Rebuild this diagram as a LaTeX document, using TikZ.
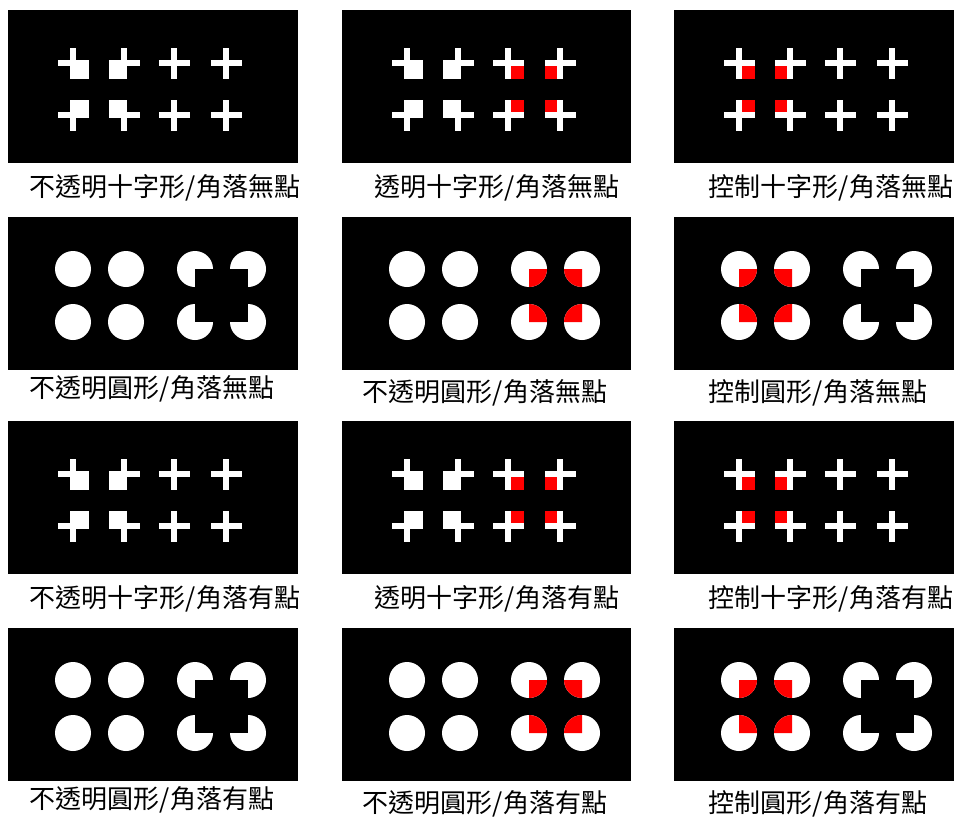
\documentclass[tikz,border=0pt]{standalone}
\usepackage{fontspec}
\newfontfamily\cjk{Noto Sans CJK TC}

\tikzset{
  panel/.style={fill=black},
  caption/.style={font=\cjk\fontsize{26}{30}\selectfont, inner sep=0pt},
}

% white cross: centre x, centre y
\newcommand{\wcross}[2]{%
  \fill[white] ({#1-15.5},{#2-3}) rectangle ({#1+15.5},{#2+3});
  \fill[white] ({#1-3},{#2-15.5}) rectangle ({#1+3},{#2+15.5});}
% corner square of a cross: colour, cx, cy, dx, dy, inner offset
\newcommand{\xcorner}[6]{%
  \fill[#1] ({#2+(#6)*(#4)},{#3+(#6)*(#5)}) rectangle ({#2+15.5*(#4)},{#3+15.5*(#5)});}
% quarter of a disc: colour, cx, cy, start angle
\newcommand{\qdisc}[4]{%
  \fill[#1] (#2,#3) -- ++(#4:18) arc[start angle=#4, end angle=#4+90, radius=18] -- cycle;}
% pacman: cx, cy, dx, dy of the cut
\newcommand{\pacman}[4]{%
  \fill[white] (#1,#2) circle[radius=18];
  \fill[black] (#1,#2) rectangle ({#1+18.5*(#3)},{#2+18.5*(#4)});}

\begin{document}
\begin{tikzpicture}[x=1pt, y=-1pt]
  \useasboundingbox (0,0) rectangle (954,819);

  \foreach \dy/\dotword in {0/無, 411/有} {
    % Opaque crosses
    \begin{scope}[shift={(8,10+\dy)}]
      \fill[panel] (0,0) rectangle (290,153);
      \xcorner{white}{65}{53}{1}{1}{-3}
      \xcorner{white}{116}{53}{-1}{1}{-3}
      \xcorner{white}{65}{105}{1}{-1}{-3}
      \xcorner{white}{116}{105}{-1}{-1}{-3}
      \foreach \cx in {65,116,166,218}
        \foreach \cy in {53,105} {\wcross{\cx}{\cy}}
    \end{scope}
    % Transparent crosses
    \begin{scope}[shift={(342,10+\dy)}]
      \fill[panel] (0,0) rectangle (289,153);
      \xcorner{white}{65}{53}{1}{1}{-3}
      \xcorner{white}{116}{53}{-1}{1}{-3}
      \xcorner{white}{65}{105}{1}{-1}{-3}
      \xcorner{white}{116}{105}{-1}{-1}{-3}
      \foreach \cx in {65,116,166,218}
        \foreach \cy in {53,105} {\wcross{\cx}{\cy}}
      \xcorner{red}{166}{53}{1}{1}{3}
      \xcorner{red}{218}{53}{-1}{1}{3}
      \xcorner{red}{166}{105}{1}{-1}{3}
      \xcorner{red}{218}{105}{-1}{-1}{3}
    \end{scope}
    % Control crosses
    \begin{scope}[shift={(674,10+\dy)}]
      \fill[panel] (0,0) rectangle (280,153);
      \foreach \cx in {65,116,166,218}
        \foreach \cy in {53,105} {\wcross{\cx}{\cy}}
      \xcorner{red}{65}{53}{1}{1}{3}
      \xcorner{red}{116}{53}{-1}{1}{3}
      \xcorner{red}{65}{105}{1}{-1}{3}
      \xcorner{red}{116}{105}{-1}{-1}{3}
    \end{scope}

    % Opaque discs
    \begin{scope}[shift={(8,217+\dy)}]
      \fill[panel] (0,0) rectangle (290,153);
      \fill[white] (65,52) circle[radius=18] (118,52) circle[radius=18]
                   (65,105) circle[radius=18] (118,105) circle[radius=18];
      \pacman{187}{52}{1}{1}
      \pacman{240}{52}{-1}{1}
      \pacman{187}{105}{1}{-1}
      \pacman{240}{105}{-1}{-1}
    \end{scope}
    % Discs with red quarters
    \begin{scope}[shift={(342,217+\dy)}]
      \fill[panel] (0,0) rectangle (289,153);
      \foreach \cx in {65,118,187,240}
        \foreach \cy in {52,105} {\fill[white] (\cx,\cy) circle[radius=18];}
      \qdisc{red}{187}{52}{0}
      \qdisc{red}{240}{52}{90}
      \qdisc{red}{187}{105}{270}
      \qdisc{red}{240}{105}{180}
    \end{scope}
    % Control discs
    \begin{scope}[shift={(674,217+\dy)}]
      \fill[panel] (0,0) rectangle (280,153);
      \fill[white] (65,52) circle[radius=18] (118,52) circle[radius=18]
                   (65,105) circle[radius=18] (118,105) circle[radius=18];
      \qdisc{red}{65}{52}{0}
      \qdisc{red}{118}{52}{90}
      \qdisc{red}{65}{105}{270}
      \qdisc{red}{118}{105}{180}
      \pacman{187}{52}{1}{1}
      \pacman{240}{52}{-1}{1}
      \pacman{187}{105}{1}{-1}
      \pacman{240}{105}{-1}{-1}
    \end{scope}

    % Captions
    \node[caption] (cap-a-\dy) at (165,188+\dy) {不透明十字形/角落\dotword 點};
    \node[caption] (cap-b-\dy) at (497,188+\dy) {透明十字形/角落\dotword 點};
    \node[caption] (cap-c-\dy) at (831,188+\dy) {控制十字形/角落\dotword 點};
    \node[caption] (cap-d-\dy) at (152,389+\dy) {不透明圓形/角落\dotword 點};
    \node[caption] (cap-e-\dy) at (485,393+\dy) {不透明圓形/角落\dotword 點};
    \node[caption] (cap-f-\dy) at (818,393+\dy) {控制圓形/角落\dotword 點};
  }
\end{tikzpicture}
\end{document}
